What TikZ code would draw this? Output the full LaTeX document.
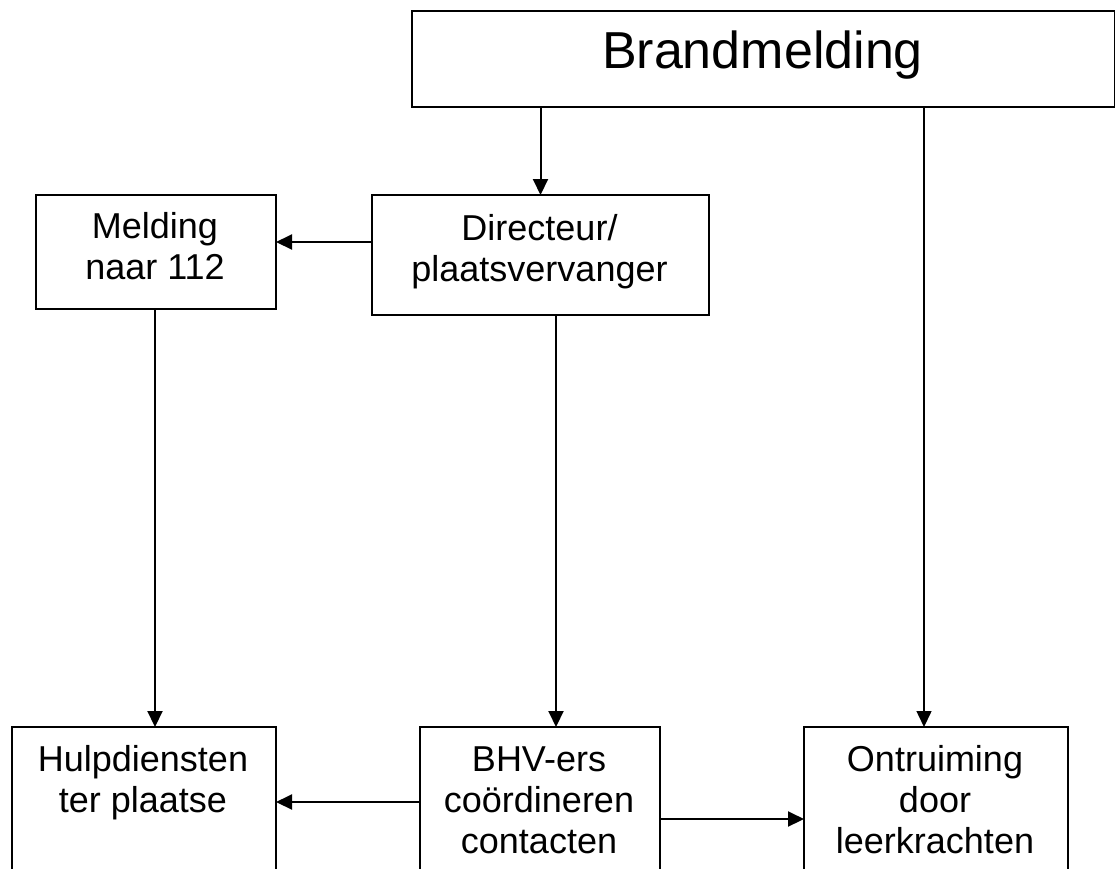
\documentclass[tikz,border=0pt]{standalone}
\usepackage{fontspec}
\setmainfont{Liberation Sans}
\usetikzlibrary{arrows.meta}
\begin{document}
\begin{tikzpicture}[x=1pt,y=-1pt,
  box/.style={draw, line width=2pt, rectangle, anchor=north west, inner sep=0pt},
  txt/.style={font=\fontsize{36}{41}\selectfont, align=center, anchor=north, inner sep=0pt},
  conn/.style={line width=2pt, -{Triangle[length=16pt,width=15pt]}, shorten >=-1pt}]
\useasboundingbox (0,0) rectangle (1115,868);
\clip (0,0) rectangle (1115,868);
\fill[white] (0,0) rectangle (1115,868);
% boxes
\node[box, minimum width=703pt, minimum height=96pt] (brand) at (411,10) {};
\node[box, minimum width=337pt, minimum height=120pt] (dir) at (371,194) {};
\node[box, minimum width=240pt, minimum height=114pt] (mel) at (35,194) {};
\node[box, minimum width=264pt, minimum height=200pt] (hulp) at (11,726) {};
\node[box, minimum width=240pt, minimum height=200pt] (bhv) at (419,726) {};
\node[box, line width=1.5pt, minimum width=264pt, minimum height=200pt] (ont) at (803,726) {};
% texts
\node[font=\fontsize{52}{60}\selectfont, anchor=base, inner sep=0pt] (brandt) at (762.5,68) {Brandmelding};
\node[txt] (dirt) at (539.5,211.3) {\strut Directeur/\\\strut plaatsvervanger};
\node[txt] (melt) at (155,209.3) {\strut Melding\\\strut naar 112};
\node[txt] (hulpt) at (143,742.3) {\strut Hulpdiensten\\\strut ter plaatse};
\node[txt] (bhvt) at (539,742.3) {\strut BHV-ers\\\strut coördineren\\\strut contacten};
\node[txt] (ontt) at (935,742.3) {\strut Ontruiming\\\strut door\\\strut leerkrachten};
% connectors
\draw[conn] (brand.south -| dir.north) -- (dir.north);
\draw[conn] ([yshift=13pt]dir.west) -- ([yshift=13pt]dir.west -| mel.east);
\draw[conn] ([xshift=-1pt]mel.south) -- ([xshift=-1pt]mel.south |- hulp.north);
\draw[conn] ([xshift=15.5pt]dir.south) -- ([xshift=15.5pt]dir.south |- bhv.north);
\draw[conn, line width=1.5pt] ([xshift=160.5pt]brand.south) -- ([xshift=160.5pt]brand.south |- ont.north);
\draw[conn] ([yshift=25pt]bhv.west) -- ([yshift=25pt]bhv.west -| hulp.east);
\draw[conn] ([yshift=8pt]bhv.east) -- ([yshift=8pt]bhv.east -| ont.west);
\end{tikzpicture}
\end{document}
